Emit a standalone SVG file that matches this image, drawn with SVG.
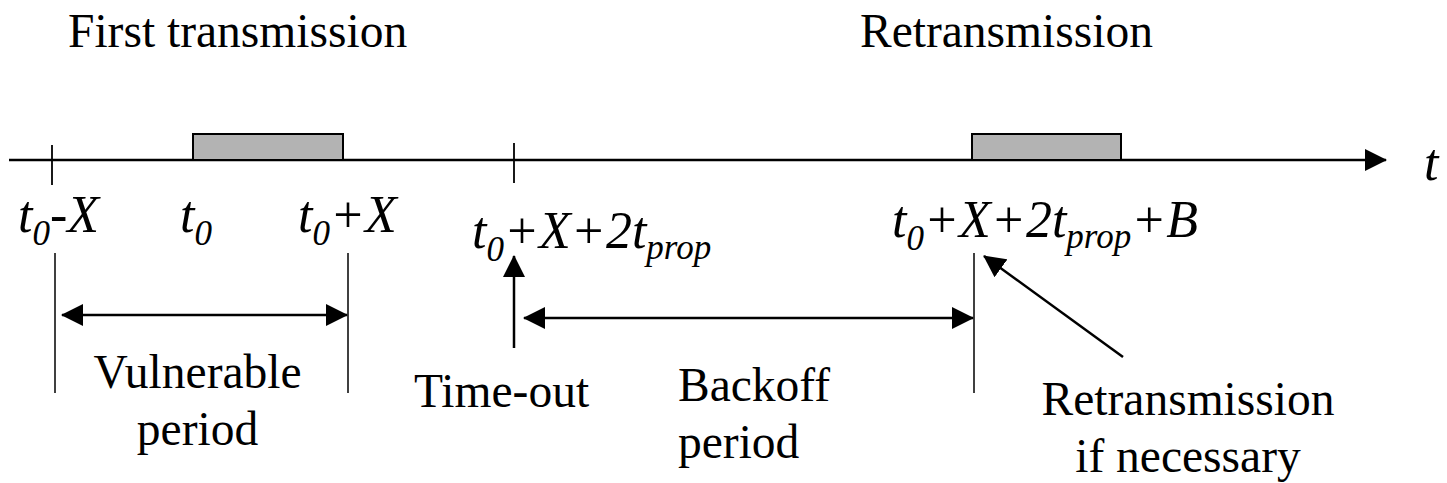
<svg xmlns="http://www.w3.org/2000/svg" width="1447" height="483" viewBox="0 0 1447 483">
<style>
text{font-family:"Liberation Serif","DejaVu Serif",serif}
.lbl{font-size:47.5px;fill:#000}
.math{font-size:52px;font-style:italic;fill:#000}
.sub{font-size:35px}
.ln{stroke:#000;fill:none}
.block{fill:#b3b3b3;stroke:#000;stroke-width:2}
</style>
<defs>
<marker id="ah" viewBox="0 0 22 22" refX="21" refY="11" markerWidth="22" markerHeight="22" markerUnits="userSpaceOnUse" orient="auto-start-reverse">
<path d="M0,0 L22,11 L0,22 Z" fill="#000"/>
</marker>
</defs>
<rect width="1447" height="483" fill="#fff"/>

<g id="axis">
<line class="ln" x1="9" y1="160" x2="1386" y2="160" stroke-width="2.5" marker-end="url(#ah)"/>
<line class="ln" x1="52" y1="145" x2="52" y2="185" stroke-width="1.8"/>
<line class="ln" x1="514" y1="143" x2="514" y2="183" stroke-width="1.8"/>
<text class="math" x="1424" y="180" font-family="Liberation Serif, DejaVu Serif, serif">t</text>
</g>

<g id="first-packet">
<rect class="block" x="193" y="134" width="150" height="26"/>
</g>
<g id="retx-packet">
<rect class="block" x="972" y="134" width="149" height="26"/>
</g>

<g id="titles" font-family="Liberation Serif, DejaVu Serif, serif">
<text class="lbl" x="68" y="47">First transmission</text>
<text class="lbl" x="860" y="47">Retransmission</text>
</g>

<g id="time-labels">
<text class="math" x="18" y="232">t<tspan class="sub" dy="13">0</tspan><tspan dy="-13">-X</tspan></text>
<text class="math" x="180" y="232">t<tspan class="sub" dy="13">0</tspan></text>
<text class="math" x="298" y="232">t<tspan class="sub" dy="13">0</tspan><tspan dy="-13">+X</tspan></text>
<text class="math" x="472" y="248">t<tspan class="sub" dy="13">0</tspan><tspan dy="-13">+X+2t</tspan><tspan class="sub" dy="11">prop</tspan></text>
<text class="math" x="892" y="237">t<tspan class="sub" dy="13">0</tspan><tspan dy="-13">+X+2t</tspan><tspan class="sub" dy="11">prop</tspan><tspan dy="-11">+B</tspan></text>
</g>

<g id="connectors">
<line class="ln" x1="55" y1="253" x2="55" y2="393" stroke-width="1.5"/>
<line class="ln" x1="348" y1="253" x2="348" y2="393" stroke-width="1.5"/>
<line class="ln" x1="974" y1="253" x2="974" y2="393" stroke-width="1.5"/>
<line class="ln" x1="62" y1="315" x2="347" y2="315" stroke-width="2.5" marker-start="url(#ah)" marker-end="url(#ah)"/>
<line class="ln" x1="524" y1="318" x2="973" y2="318" stroke-width="2.5" marker-start="url(#ah)" marker-end="url(#ah)"/>
<line class="ln" x1="514" y1="348" x2="514" y2="256" stroke-width="2.5" marker-end="url(#ah)"/>
<line class="ln" x1="1123" y1="357" x2="984" y2="256" stroke-width="2.5" marker-end="url(#ah)"/>
</g>

<g id="vulnerable">
<text class="lbl" x="197.5" y="388" text-anchor="middle">Vulnerable</text>
<text class="lbl" x="197.5" y="445" text-anchor="middle">period</text>
</g>
<g id="timeout">
<text class="lbl" x="414" y="407">Time-out</text>
</g>
<g id="backoff">
<text class="lbl" x="678" y="401">Backoff</text>
<text class="lbl" x="678" y="458">period</text>
</g>
<g id="retx-note">
<text class="lbl" x="1188" y="415" text-anchor="middle">Retransmission</text>
<text class="lbl" x="1188" y="472" text-anchor="middle">if necessary</text>
</g>
</svg>
